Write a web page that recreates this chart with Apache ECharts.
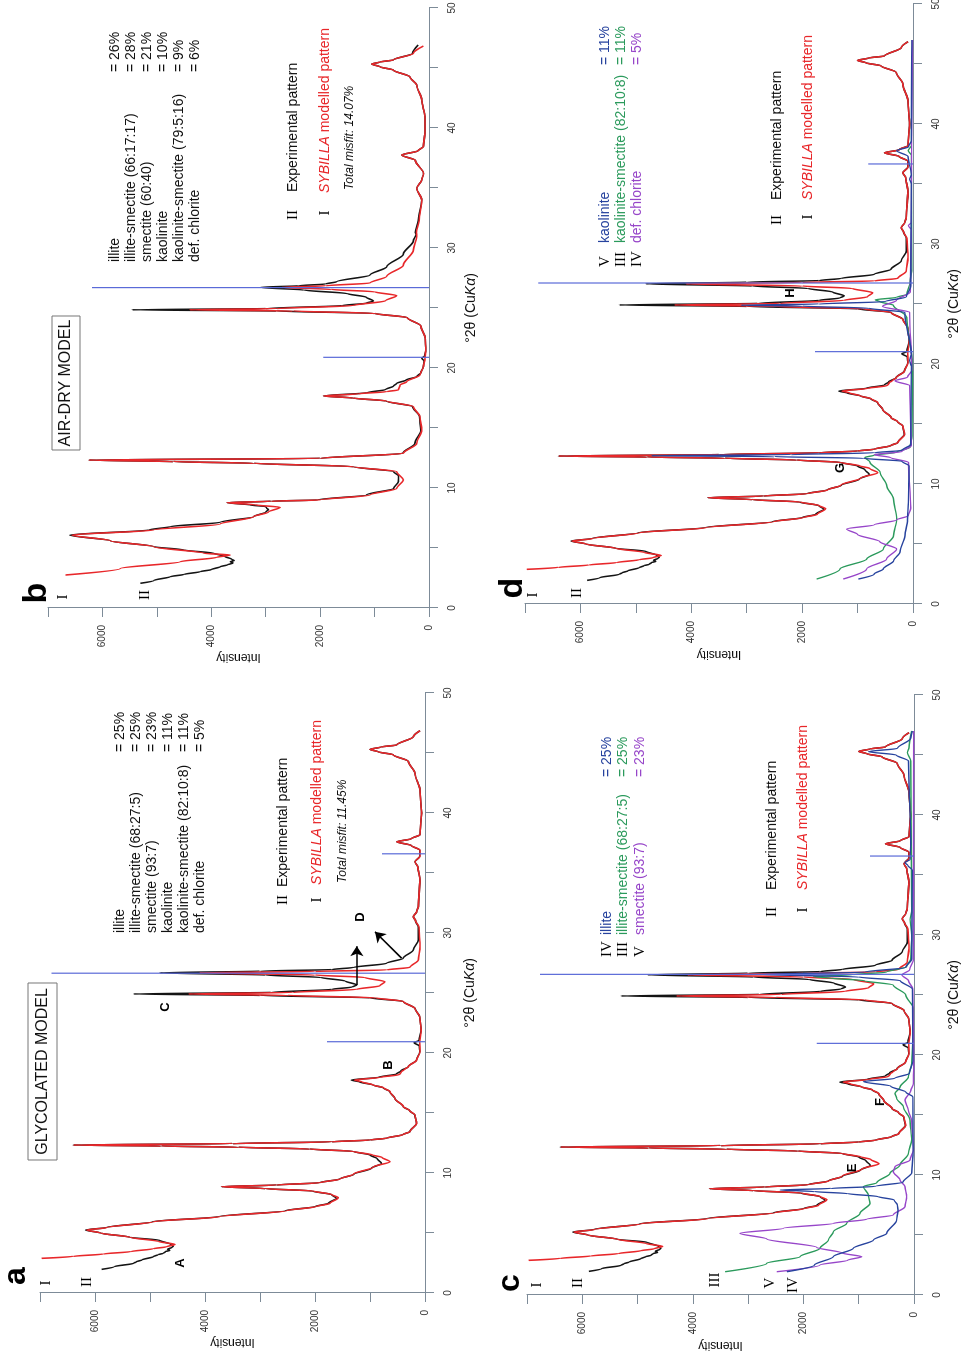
<!DOCTYPE html>
<html><head><meta charset="utf-8">
<script src="https://cdn.jsdelivr.net/npm/echarts@6/dist/echarts.min.js"></script>
<style>
html,body{margin:0;padding:0;overflow:hidden;background:#fff;width:962px;height:1355px}
#wrap{position:absolute;left:0;top:0;width:1355px;height:962px;transform-origin:0 0;transform:translate(0px,1355px) rotate(-90deg);background:#fff}
#chart{width:1355px;height:962px}
</style></head>
<body><div id="wrap"><div id="chart"></div></div>
<script>
// ---------- DATA (2θ in degrees, intensity in counts) ----------
const glyExp = [[1.97,5880],[2.2,5650],[2.47,5300],[2.6,5250],[2.75,5150],[3.03,4940],[3.2,4850],[3.3,4760],[3.45,4720],[3.55,4640],[3.65,4680],[3.8,4600],[3.9,4580],[4.05,4620],[4.39,4820],[4.64,5360],[5.0,5900],[5.25,6170],[5.45,5800],[5.94,4960],[6.36,3760],[6.86,2540],[7.2,2000],[7.47,1760],[7.9,1610],[8.2,1700],[8.5,2050],[8.7,2900],[8.86,3700],[9.0,2700],[9.19,1920],[9.5,1550],[9.9,1290],[10.4,970],[10.8,790],[11.2,870],[11.5,1000],[11.8,1300],[12.0,2100],[12.15,3400],[12.25,4800],[12.33,6400],[12.45,3500],[12.6,1700],[12.75,1000],[12.9,700],[13.2,400],[13.45,275],[14.14,155],[14.83,185],[15.2,280],[15.53,395],[16.2,545],[16.78,640],[17.1,760],[17.33,940],[17.6,1200],[17.75,1340],[17.97,850],[18.25,520],[18.5,440],[18.86,305],[19.42,155],[20.1,95],[20.6,105],[20.85,200],[21.05,110],[21.9,70],[23.0,95],[23.7,180],[24.3,395],[24.6,1000],[24.8,3000],[24.92,5300],[25.05,2800],[25.3,1700],[25.5,1320],[25.67,1240],[26.0,1450],[26.3,1900],[26.5,2900],[26.68,4820],[26.82,3000],[26.95,1700],[27.13,1300],[27.47,700],[27.9,395],[28.6,212],[29.42,121],[30.5,121],[31.0,170],[31.36,212],[31.8,150],[32.2,121],[34.4,91],[35.5,130],[35.94,182],[36.4,95],[36.9,95],[37.3,250],[37.6,515],[37.85,250],[38.2,91],[40.0,61],[41.9,91],[43.3,182],[44.3,303],[44.85,576],[45.1,850],[45.3,1000],[45.5,800],[45.67,515],[46.36,212],[46.86,91]];
const glyModel = [[2.89,6970],[3.05,6400],[3.25,5850],[3.45,5350],[3.69,4940],[3.85,4700],[4.05,4545],[4.3,4850],[4.64,5360],[5.0,5900],[5.25,6150],[5.45,5780],[5.94,4940],[6.36,3727],[6.86,2515],[7.2,1980],[7.47,1727],[7.94,1576],[8.2,1690],[8.5,2030],[8.7,2900],[8.86,3697],[9.0,2700],[9.19,1909],[9.5,1540],[9.9,1303],[10.5,939],[10.94,636],[11.3,780],[11.5,950],[11.8,1303],[12.0,2100],[12.15,3400],[12.25,4800],[12.33,6394],[12.45,3500],[12.6,1700],[12.75,1000],[12.9,697],[13.2,400],[13.45,273],[14.14,152],[14.83,182],[15.2,280],[15.53,394],[16.2,545],[16.78,636],[17.1,750],[17.33,939],[17.6,1150],[17.75,1280],[17.97,818],[18.2,470],[18.3,445],[18.44,430],[18.6,380],[18.86,303],[19.42,152],[20.1,91],[20.9,95],[21.9,70],[23.0,95],[23.7,182],[24.3,394],[24.6,900],[24.8,2500],[24.92,4300],[25.05,2400],[25.3,1250],[25.6,820],[25.94,727],[26.3,1100],[26.5,2000],[26.68,4100],[26.8,2000],[26.92,697],[27.14,273],[27.75,121],[28.86,91],[30.5,110],[31.0,170],[31.36,212],[31.8,150],[32.2,121],[34.4,91],[35.5,130],[35.94,182],[36.4,91],[36.9,91],[37.3,250],[37.6,515],[37.85,250],[38.2,91],[40.0,61],[41.9,91],[43.3,182],[44.3,303],[44.85,576],[45.1,850],[45.3,1000],[45.5,800],[45.67,515],[46.36,212],[46.86,91]];
const airExp = [[2.06,5303],[2.3,5050],[2.61,4752],[2.8,4500],[3.03,4202],[3.2,4000],[3.44,3835],[3.6,3700],[3.75,3600],[3.86,3651],[3.95,3580],[4.06,3621],[4.3,3750],[4.56,3950],[4.83,4500],[5.11,5058],[5.6,5850],[6.08,6600],[6.5,5150],[6.78,4752],[7.14,3835],[7.61,3223],[8.0,3000],[8.2,2950],[8.31,2979],[8.45,3000],[8.6,3300],[8.78,3712],[8.9,2900],[9.0,2050],[9.42,1150],[9.97,650],[10.53,563],[11.0,560],[11.36,650],[11.78,1388],[12.06,3223],[12.2,4700],[12.33,6251],[12.47,1999],[12.89,480],[13.72,260],[14.83,150],[15.94,175],[16.78,300],[17.25,790],[17.5,1400],[17.67,1939],[17.94,1140],[18.2,800],[18.5,650],[18.72,593],[19.0,420],[19.28,226],[19.6,150],[20.11,104],[20.6,90],[20.8,134],[21.0,80],[21.5,60],[22.5,70],[23.5,150],[24.2,400],[24.55,1000],[24.75,2800],[24.85,5456],[24.95,3000],[25.2,1600],[25.4,1150],[25.58,1022],[25.9,1150],[26.2,1500],[26.5,2300],[26.72,3100],[26.85,2400],[27.0,1900],[27.19,1695],[27.75,1083],[28.44,777],[29.5,471],[30.6,287],[31.1,240],[31.3,250],[32.3,196],[34.0,134],[34.97,226],[35.67,134],[36.2,100],[37.3,250],[37.75,502],[38.1,200],[38.45,104],[39.56,74],[40.94,74],[42.33,134],[43.58,226],[44.25,349],[44.83,654],[45.1,900],[45.33,1052],[45.5,900],[45.67,654],[46.22,300],[46.92,200]];
const airModel = [[2.75,6679],[3.29,5670],[3.86,4569],[4.22,3902],[4.42,3651],[4.56,4141],[5.11,5058],[5.6,5850],[6.08,6556],[6.5,5058],[7.0,3833],[7.61,3223],[8.0,2950],[8.39,2734],[8.6,3200],[8.78,3712],[8.9,2900],[9.0,1999],[9.42,1083],[9.97,593],[10.67,471],[11.36,593],[11.78,1388],[12.06,3223],[12.2,4700],[12.33,6251],[12.47,1999],[12.89,471],[13.72,226],[14.83,134],[15.94,165],[16.78,287],[17.25,777],[17.5,1400],[17.67,1939],[17.85,1300],[18.03,777],[18.17,563],[18.58,532],[18.86,410],[19.42,165],[20.11,104],[20.8,74],[21.5,60],[22.5,70],[23.5,150],[24.2,400],[24.55,1000],[24.75,2500],[24.85,4400],[24.95,2800],[25.2,1400],[25.6,800],[26.03,593],[26.35,1000],[26.55,1800],[26.72,2700],[26.85,1900],[27.08,1083],[27.64,777],[28.58,471],[29.83,287],[30.94,226],[31.3,230],[32.3,180],[34.0,134],[34.97,226],[35.67,134],[36.2,100],[37.3,250],[37.75,502],[38.1,200],[38.45,104],[39.56,74],[40.94,74],[42.33,134],[43.58,226],[44.25,349],[44.83,654],[45.1,900],[45.33,1052],[45.5,900],[45.67,654],[46.22,287],[46.83,104]];
// panel c components
const illiteC = [[1.94,2300],[2.5,1800],[3.19,1460],[3.89,1100],[4.58,735],[5.14,494],[6.25,314],[7.0,290],[7.5,300],[7.92,360],[8.2,650],[8.45,1200],[8.62,1800],[8.75,2420],[8.88,1500],[9.05,700],[9.4,200],[10.2,40],[12,15],[16.5,20],[16.9,145],[17.4,420],[17.78,916],[18.05,350],[18.47,84],[19.5,20],[25.5,30],[26.2,250],[26.5,1000],[26.72,2800],[26.9,900],[27.3,150],[28,40],[35.4,30],[35.8,110],[36.03,163],[36.3,70],[37.6,60],[44.5,100],[45.0,320],[45.28,826],[45.55,300],[46.4,60],[47.0,30]];
const isC = [[1.94,3418],[2.64,2664],[3.19,2061],[3.89,1700],[4.58,1549],[5.28,1459],[5.97,1218],[6.8,977],[7.64,796],[8.33,826],[9.03,916],[9.36,675],[10.14,434],[10.83,253],[11.8,102],[12.92,42],[14.58,72],[15.69,193],[16.39,314],[16.8,344],[17.31,253],[18.19,102],[19.3,42],[21.8,12],[23.9,12],[25.0,150],[25.83,374],[26.2,900],[26.4,1500],[26.53,1820],[26.7,1100],[26.9,500],[27.36,134],[28,60],[30,40],[31.3,70],[32,40],[37.6,50],[44.5,60],[45.2,120],[45.6,90],[47,40]];
const smectiteC = [[1.94,2483],[2.5,1700],[2.9,1200],[3.19,946],[3.5,1300],[3.97,1760],[4.67,2664],[5.14,3146],[5.56,2363],[5.97,1459],[6.31,856],[6.67,374],[7.36,163],[8.19,133],[9.03,163],[9.58,253],[10.28,374],[10.69,344],[11.25,72],[12.08,10],[14.5,40],[15.39,102],[16.25,163],[17.0,60],[17.64,12],[19,5],[25.5,20],[26.2,100],[26.67,220],[27.1,80],[28,10],[47,5]];
// panel d components
const kaoliniteD = [[2.08,987],[2.5,700],[2.92,536],[3.6,350],[4.33,235],[5.69,145],[7,100],[8.47,84],[11.5,70],[11.9,200],[12.15,900],[12.28,2500],[12.36,4717],[12.45,2200],[12.6,700],[12.8,200],[13.3,40],[19.8,30],[20.3,60],[20.8,30],[24.3,150],[24.65,800],[24.82,2000],[24.9,3100],[25.0,1700],[25.2,500],[25.6,120],[26.5,40],[35,30],[35.4,60],[35.8,30],[37.3,90],[37.78,295],[38.1,80],[38.6,30],[45.5,25],[47,20]];
const ksD = [[2.08,1739],[2.92,1316],[3.75,834],[4.58,534],[5.69,353],[7.08,293],[8.75,353],[9.86,473],[10.97,594],[11.81,775],[12.22,865],[12.4,700],[12.64,300],[13.06,54],[14,15],[20,10],[23.9,114],[24.9,355],[25.2,600],[25.35,680],[25.55,300],[25.8,114],[26.8,54],[28,20],[37.4,30],[37.78,85],[38.2,30],[47,10]];
const chloriteD = [[2.08,1258],[2.92,836],[3.75,475],[4.58,295],[5.2,600],[5.8,1000],[6.25,1198],[6.6,700],[7.0,300],[7.36,84],[8,40],[11.8,80],[12.2,400],[12.45,700],[12.7,200],[13.2,30],[18.2,60],[18.6,325],[18.9,100],[19.5,20],[24.3,60],[24.8,550],[25.3,300],[26,50],[31.2,30],[31.53,84],[31.8,30],[47,10]];
// quartz reference lines [2θ, height]
const quartzA = [[20.94,1780],[26.65,6790],[36.6,780]];
const quartzB = [[20.89,1945],[26.7,6190]];
const quartzC = [[20.97,1760],[26.72,6763],[36.58,796]];
const quartzD = [[21.03,1769],[26.75,6763],[36.67,806]];
// arrows in panel a [x1,y1,x2,y2] in data units
const arrowsA = [[25.67,1240,28.9,1240],[27.9,424,30.1,909]];
// texts
const namesA = ['illite','illite-smectite (68:27:5)','smectite (93:7)','kaolinite','kaolinite-smectite (82:10:8)','def. chlorite'];
const pctA = ['= 25%','= 25%','= 23%','= 11%','= 11%','= 5%'];
const namesB = ['illite','illite-smectite (66:17:17)','smectite (60:40)','kaolinite','kaolinite-smectite (79:5:16)','def. chlorite'];
const pctB = ['= 26%','= 28%','= 21%','= 10%','= 9%','= 6%'];
const romC = ['IV','III','V'], namesC = ['illite','illite-smectite (68:27:5)','smectite (93:7)'], pctC = ['= 25%','= 25%','= 23%'];
const romD = ['V','III','IV'], namesD = ['kaolinite','kaolinite-smectite (82:10:8)','def. chlorite'], pctD = ['= 11%','= 11%','= 5%'];

// ---------- STYLE ----------
const FONT = '"Liberation Sans", Arial, sans-serif';
const SERIF = '"Liberation Serif", "Times New Roman", serif';
const BLACK = '#141414', RED = '#e8272a', BLUE = '#27439e', GREEN = '#2b9a5c', PURPLE = '#9746c9', QUARTZ = '#5a6ad8', AX = '#7d8b98';

const grids = [
  {left:62, top:40, width:600, height:385},
  {left:747, top:48, width:600, height:381},
  {left:60, top:527, width:600, height:387},
  {left:751, top:525, width:600, height:388}
].map(g => Object.assign({containLabel:false, outerBoundsMode:'none'}, g));

const xNameGap = [38, 35, 33, 34];
const yNameGap = [40, 41, 44, 44];

function xAx(i){
  return {gridIndex:i, type:'value', min:0, max:50, interval:5, position:'bottom',
    axisLine:{show:true, onZero:false, lineStyle:{color:AX, width:1}},
    axisTick:{show:true, length:9, lineStyle:{color:AX, width:1}},
    axisLabel:{show:true, fontSize:10, color:'#333', margin:18, fontFamily:FONT, hideOverlap:false,
      showMinLabel:true, showMaxLabel:true, formatter:v => (v % 10 === 0 ? String(v) : '')},
    splitLine:{show:false},
    name:'°2θ (Cu{i|Kα})', nameLocation:'middle', nameGap:xNameGap[i],
    nameTextStyle:{fontSize:14, color:'#111', fontFamily:FONT,
      rich:{i:{fontStyle:'italic', fontSize:14, color:'#111', fontFamily:FONT}}}};
}
function yAx(i){
  return {gridIndex:i, type:'value', min:0, max:7000, interval:1000, position:'left',
    axisLine:{show:true, onZero:false, lineStyle:{color:AX, width:1}},
    axisTick:{show:true, length:9, lineStyle:{color:AX, width:1}},
    axisLabel:{show:true, fontSize:10, color:'#333', margin:17, fontFamily:FONT, hideOverlap:false,
      showMinLabel:true, showMaxLabel:true, formatter:v => (v % 2000 === 0 ? String(v) : '')},
    splitLine:{show:false},
    name:'Intensity', nameLocation:'middle', nameRotate:90, nameGap:yNameGap[i],
    nameTextStyle:{fontSize:12, color:'#111', fontFamily:FONT}};
}
function line(i, data, color, width, extra){
  return Object.assign({type:'line', xAxisIndex:i, yAxisIndex:i, data:data, showSymbol:false, symbol:'none',
    smooth:0.3, smoothMonotone:'x',
    silent:true, animation:false, lineStyle:{color:color, width:width}, itemStyle:{color:color}}, extra || {});
}
const series = [];
// panel a
series.push(line(0, glyExp, BLACK, 1.6, {markLine:{silent:true, animation:false, symbol:['none','arrow'], symbolSize:10,
  label:{show:false}, lineStyle:{color:'#000', width:1.6, type:'solid'},
  data: arrowsA.map(a => [{coord:[a[0],a[1]]},{coord:[a[2],a[3]]}])}}));
series.push(line(0, glyModel, RED, 1.6));
// panel b
series.push(line(1, airExp, BLACK, 1.6));
series.push(line(1, airModel, RED, 1.6));
// panel c
series.push(line(2, glyExp, BLACK, 1.6));
series.push(line(2, glyModel, RED, 1.6));
series.push(line(2, isC, GREEN, 1.4));
series.push(line(2, smectiteC, PURPLE, 1.4));
series.push(line(2, illiteC, BLUE, 1.4));
// panel d
series.push(line(3, glyExp, BLACK, 1.6));
series.push(line(3, glyModel, RED, 1.6));
series.push(line(3, ksD, GREEN, 1.4));
series.push(line(3, chloriteD, PURPLE, 1.4));
series.push(line(3, kaoliniteD, BLUE, 1.4));
// quartz lines
[quartzA, quartzB, quartzC, quartzD].forEach((qs, i) => qs.forEach(q => {
  series.push(line(i, [[q[0], 0], [q[0], q[1]]], QUARTZ, 1.2, {smooth:false}));
}));

// ---------- TEXT GRAPHICS (landscape pixel layout) ----------
const cv = document.createElement('canvas').getContext('2d');
function mw(t, font){ cv.font = font; return cv.measureText(t).width; }
const G = [];
function T(x, y, text, font, fill, align, extra){
  G.push(Object.assign({type:'text', x:x, y:y, silent:true, z:100,
    style:{text:text, font:font, fill:fill || '#111', textAlign:align || 'left', textVerticalAlign:'middle'}}, extra || {}));
}
function box(x, y, w, h){
  G.push({type:'rect', silent:true, z:99, shape:{x:x, y:y, width:w, height:h}, style:{fill:'#fff', stroke:'#777', lineWidth:1}});
}
const F14 = '14px ' + FONT, F13B = 'bold 13px ' + FONT, RN = '15px ' + SERIF;
function sybilla(x, y){
  const fi = 'italic 14px ' + FONT;
  T(x, y, 'SYBILLA', fi, RED);
  T(x + mw('SYBILLA ', fi), y, 'modelled pattern', F14, RED);
}
// panel a
T(79, 16, 'a', 'bold 32px ' + FONT, '#000', 'center');
T(72, 46, 'I', RN, '#000', 'center'); T(73, 87, 'II', RN, '#000', 'center');
box(195, 28, 177, 29); T(283.5, 43, 'GLYCOLATED MODEL', '16px ' + FONT, '#111', 'center');
namesA.forEach((n, k) => { T(422, 120 + 16 * k, n, F14); T(603, 120 + 16 * k, pctA[k], F14); });
T(455, 283, 'II', RN, '#000', 'center'); T(468, 283, 'Experimental pattern', F14);
T(455, 317, 'I', RN, '#000', 'center'); sybilla(470, 317);
T(472, 343, 'Total misfit: 11.45%', 'italic 12px ' + FONT);
T(92, 180, 'A', F13B, '#000', 'center'); T(290, 388, 'B', F13B, '#000', 'center');
T(348, 165, 'C', F13B, '#000', 'center'); T(438, 360, 'D', F13B, '#000', 'center');
// panel b
T(762, 37, 'b', 'bold 34px ' + FONT, '#000', 'center');
T(758, 63, 'I', RN, '#000', 'center'); T(760, 145, 'II', RN, '#000', 'center');
box(905, 52, 134, 28); T(972, 66, 'AIR-DRY MODEL', '16px ' + FONT, '#111', 'center');
namesB.forEach((n, k) => { T(1093, 115 + 16 * k, n, F14); T(1283, 115 + 16 * k, pctB[k], F14); });
T(1140, 293, 'II', RN, '#000', 'center'); T(1163, 293, 'Experimental pattern', F14);
T(1142, 325, 'I', RN, '#000', 'center'); sybilla(1162, 325);
T(1165, 350, 'Total misfit: 14.07%', 'italic 12px ' + FONT);
// panel c
const colC = [BLUE, GREEN, PURPLE];
T(72, 510, 'c', 'bold 32px ' + FONT, '#000', 'center');
T(70, 537, 'I', RN, '#000', 'center'); T(72, 578, 'II', RN, '#000', 'center');
T(75, 715, 'III', RN, '#000', 'center'); T(72, 770, 'V', RN, '#000', 'center'); T(70, 793, 'IV', RN, '#000', 'center');
romC.forEach((r, k) => { const y = 607 + 16.5 * k; T(398, y, r, RN, '#000'); T(420, y, namesC[k], F14, colC[k]); T(578, y, pctC[k], F14, colC[k]); });
T(443, 772, 'II', RN, '#000', 'center'); T(465, 772, 'Experimental pattern', F14);
T(445, 803, 'I', RN, '#000', 'center'); sybilla(465, 803);
T(187, 852, 'E', F13B, '#000', 'center'); T(253, 880, 'F', F13B, '#000', 'center');
// panel d
T(767, 513, 'd', 'bold 34px ' + FONT, '#000', 'center');
T(760, 533, 'I', RN, '#000', 'center'); T(762, 577, 'II', RN, '#000', 'center');
romD.forEach((r, k) => { const y = 605 + 16 * k; T(1088, y, r, RN, '#000'); T(1112, y, namesD[k], F14, colC[k]); T(1290, y, pctD[k], F14, colC[k]); });
T(1135, 777, 'II', RN, '#000', 'center'); T(1155, 777, 'Experimental pattern', F14);
T(1138, 808, 'I', RN, '#000', 'center'); sybilla(1155, 808);
T(887, 840, 'G', F13B, '#000', 'center'); T(1062, 790, 'H', F13B, '#000', 'center');

const chart = echarts.init(document.getElementById('chart'), null, {renderer:'canvas', width:1355, height:962});
chart.setOption({
  backgroundColor:'#fff',
  animation:false,
  grid: grids,
  xAxis: [0,1,2,3].map(xAx),
  yAxis: [0,1,2,3].map(yAx),
  series: series,
  graphic: {elements: G}
});
</script>
</body></html>
